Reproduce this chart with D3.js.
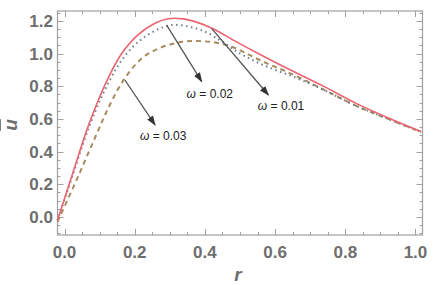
<!DOCTYPE html>
<html>
<head>
<meta charset="utf-8">
<script src="https://cdn.jsdelivr.net/npm/d3@7"></script>
<style>
  body { margin: 0; background: #fff; }
  svg { display: block; }
</style>
</head>
<body>
<svg width="437" height="285"></svg>
<script>
// values (r, u)
const rValsA = [-0.02, 0.02, 0.0725, 0.125, 0.163, 0.21, 0.2575, 0.295, 0.338, 0.376, 0.423, 0.49, 0.556, 0.622, 0.67, 0.736, 0.831, 0.926, 1.016];
const uOmega001 = [-0.02, 0.245, 0.585, 0.853, 1.0, 1.115, 1.185, 1.213, 1.212, 1.192, 1.152, 1.071, 0.995, 0.922, 0.872, 0.802, 0.695, 0.603, 0.523];

const rValsB = [-0.02, 0.02, 0.0725, 0.125, 0.17, 0.215, 0.25, 0.28, 0.31, 0.357, 0.404, 0.452, 0.5, 0.547, 0.6, 0.65, 0.7, 0.736, 0.831, 0.926, 1.016];
const uOmega002 = [-0.02, 0.235, 0.565, 0.82, 0.98, 1.08, 1.13, 1.16, 1.175, 1.163, 1.13, 1.068, 1.0, 0.948, 0.9, 0.86, 0.815, 0.78, 0.68, 0.597, 0.52];

const rValsC = [-0.02, 0.035, 0.09, 0.13, 0.172, 0.22, 0.267, 0.309, 0.35, 0.395, 0.442, 0.49, 0.537, 0.585, 0.632, 0.7, 0.736, 0.831, 0.926, 1.016];
const uOmega003 = [-0.03, 0.23, 0.5, 0.69, 0.85, 0.97, 1.03, 1.06, 1.075, 1.075, 1.062, 1.03, 0.98, 0.932, 0.89, 0.82, 0.782, 0.68, 0.597, 0.52];

const xTicks = [0, 0.2, 0.4, 0.6, 0.8, 1.0];
const yTicks = [0, 0.2, 0.4, 0.6, 0.8, 1.0, 1.2];

// annotation arrows: [label, r0, u0, r1, u1, labelR, labelU]
const notes = [
  ["0.03", 0.172, 0.838, 0.258, 0.563, 0.281, 0.471],
  ["0.02", 0.291, 1.174, 0.391, 0.828, 0.414, 0.73],
  ["0.01", 0.419, 1.154, 0.581, 0.746, 0.617, 0.655]
];

const svg = d3.select("svg");
const plotLeft = 57.5, plotRight = 422.5, plotTop = 11, plotBottom = 235;

const xScale = d3.scaleLinear().domain([-0.02, 1.02]).range([plotLeft, plotRight]);
const yScale = d3.scaleLinear().domain([-0.11, 1.26]).range([plotBottom, plotTop]);

const frameColor = "#a0a0a0";
const labelColor = "#6e6e6e";

// minor ticks every 0.05
const xMinor = d3.range(0, 1.0001, 0.05);
const yMinor = d3.range(-0.1, 1.2501, 0.05);

function isMajor(v) {
  return Math.abs(Math.round(v * 5) - v * 5) < 1e-6;
}

const ticks = svg.append("g").attr("stroke", frameColor).attr("stroke-width", 1);
xMinor.forEach((v) => {
  const len = isMajor(v) ? 6 : 3;
  const x = Math.round(xScale(v)) + 0.5;
  ticks.append("line").attr("x1", x).attr("x2", x).attr("y1", plotBottom).attr("y2", plotBottom - len);
  ticks.append("line").attr("x1", x).attr("x2", x).attr("y1", plotTop).attr("y2", plotTop + len);
});
yMinor.forEach((v) => {
  const len = isMajor(v) ? 6 : 3;
  const y = Math.round(yScale(v)) + 0.5;
  ticks.append("line").attr("x1", plotLeft).attr("x2", plotLeft + len).attr("y1", y).attr("y2", y);
  ticks.append("line").attr("x1", plotRight).attr("x2", plotRight - len).attr("y1", y).attr("y2", y);
});

// frame
svg.append("rect")
  .attr("x", plotLeft).attr("y", plotTop)
  .attr("width", plotRight - plotLeft).attr("height", plotBottom - plotTop)
  .attr("fill", "none").attr("stroke", frameColor).attr("stroke-width", 1.2);

// tick labels
svg.append("g").selectAll("text")
  .data(xTicks).enter().append("text")
  .attr("x", (d) => xScale(d))
  .attr("y", 258)
  .attr("text-anchor", "middle")
  .style("font", "bold 17px 'Liberation Sans', Arial, sans-serif")
  .style("fill", labelColor)
  .text((d) => d.toFixed(1));

svg.append("g").selectAll("text")
  .data(yTicks).enter().append("text")
  .attr("x", 53)
  .attr("y", (d) => yScale(d) + 6)
  .attr("text-anchor", "end")
  .style("font", "bold 17px 'Liberation Sans', Arial, sans-serif")
  .style("fill", labelColor)
  .text((d) => d.toFixed(1));

// axis titles
svg.append("text")
  .attr("x", 238).attr("y", 281)
  .attr("text-anchor", "middle")
  .style("font", "italic bold 19px 'Liberation Sans', Arial, sans-serif")
  .style("fill", labelColor)
  .text("r");

svg.append("text")
  .attr("transform", "translate(17,125) rotate(-90)")
  .attr("text-anchor", "middle")
  .style("font", "italic bold 19px 'Liberation Sans', Arial, sans-serif")
  .style("fill", labelColor)
  .style("text-decoration", "overline")
  .text("u");

// curves
const line = d3.line()
  .x((d) => xScale(d[0]))
  .y((d) => yScale(d[1]))
  .curve(d3.curveCatmullRom.alpha(0.5));

const plot = svg.append("g");
plot.append("path")
  .datum(rValsC.map((r, i) => [r, uOmega003[i]]))
  .attr("d", line)
  .attr("fill", "none")
  .attr("stroke", "#a88a60")
  .attr("stroke-width", 2)
  .attr("stroke-dasharray", "5,4");

plot.append("path")
  .datum(rValsB.map((r, i) => [r, uOmega002[i]]))
  .attr("d", line)
  .attr("fill", "none")
  .attr("stroke", "#6d7f8e")
  .attr("stroke-width", 2)
  .attr("stroke-dasharray", "1.5,3.5");

plot.append("path")
  .datum(rValsA.map((r, i) => [r, uOmega001[i]]))
  .attr("d", line)
  .attr("fill", "none")
  .attr("stroke", "#ea6470")
  .attr("stroke-width", 1.6);

// arrows
svg.append("defs").append("marker")
  .attr("id", "head")
  .attr("viewBox", "0 0 10 10")
  .attr("refX", 9).attr("refY", 5)
  .attr("markerWidth", 10).attr("markerHeight", 10)
  .attr("markerUnits", "userSpaceOnUse")
  .attr("orient", "auto")
  .append("path")
  .attr("d", "M0,1.5 L10,5 L0,8.5 Z")
  .attr("fill", "#333");

const ann = svg.append("g");
notes.forEach((n) => {
  ann.append("line")
    .attr("x1", xScale(n[1])).attr("y1", yScale(n[2]))
    .attr("x2", xScale(n[3])).attr("y2", yScale(n[4]))
    .attr("stroke", "#555")
    .attr("stroke-width", 1.3)
    .attr("marker-end", "url(#head)");
  const t = ann.append("text")
    .attr("x", xScale(n[5])).attr("y", yScale(n[6]))
    .attr("text-anchor", "middle")
    .style("font", "12px 'Liberation Sans', Arial, sans-serif")
    .style("fill", "#222");
  t.append("tspan").style("font-style", "italic").text("ω");
  t.append("tspan").text(" = " + n[0]);
});
</script>
</body>
</html>
